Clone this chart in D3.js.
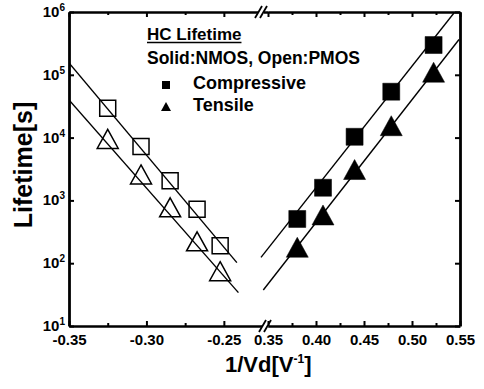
<!DOCTYPE html>
<html>
<head>
<meta charset="utf-8">
<script src="https://cdn.jsdelivr.net/npm/d3@7"></script>
<style>
  body { margin: 0; background: #fff; }
  svg { display: block; }
  text { font-family: "Liberation Sans", Arial, sans-serif; font-weight: bold; fill: #000; }
</style>
</head>
<body>
<svg id="chart" width="484" height="389"></svg>
<script>
// PMOS (open symbols), plotted against negative 1/Vd
const pmosX = [-0.325, -0.3035, -0.2847, -0.2673, -0.2524];
const pmosCompressive = [2.93e4, 7.2e3, 2.06e3, 721, 190];
const pmosTensile = [9.2e3, 2.5e3, 748, 215, 72];

// NMOS (solid symbols), plotted against positive 1/Vd
const nmosX = [0.3805, 0.4073, 0.4402, 0.4784, 0.5225];
const nmosCompressive = [506, 1590, 1.03e4, 5.38e4, 2.98e5];
const nmosTensile = [173, 565, 2.99e3, 1.49e4, 1.06e5];

// Fitted lifetime lines, [1/Vd, lifetime] end points
const pmosCompressiveFit = [[-0.35, 1.54e5], [-0.2416, 102]];
const pmosTensileFit = [[-0.35, 3.97e4], [-0.2406, 34]];
const nmosCompressiveFit = [[0.3427, 124], [0.5445, 1e6]];
const nmosTensileFit = [[0.3451, 37.4], [0.549, 3.65e5]];

// Axis ticks
const leftMajor = [-0.35, -0.30, -0.25];
const leftMinor = [-0.325, -0.275];
const rightMajor = [0.35, 0.40, 0.45, 0.50, 0.55];
const rightMinor = [0.375, 0.425, 0.475, 0.525];
const yTicks = [1e1, 1e2, 1e3, 1e4, 1e5, 1e6];

const legendTitle = "HC Lifetime";
const legendNote = "Solid:NMOS, Open:PMOS";
const legendItems = ["Compressive", "Tensile"];

const svg = d3.select("#chart");
const plotTop = 12, plotBottom = 326, plotLeft = 69, plotRight = 460, brk = 268;

const y = d3.scaleLog().domain([1e1, 1e6]).range([plotBottom, plotTop]);
const xL = d3.scaleLinear().domain([-0.35, -0.2215]).range([plotLeft, brk]);
const xR = d3.scaleLinear().domain([0.35, 0.55]).range([brk, plotRight]);

const fmt = d => d.toFixed(2);

function styleAxis(g, domainWidth) {
  g.select(".domain").attr("stroke", "#000").attr("stroke-width", domainWidth);
  g.selectAll(".tick line").attr("stroke", "#000").attr("stroke-width", 2);
  g.selectAll(".tick text").style("font-size", "15px");
}

// bottom and top axes, two segments each
[[xL, leftMajor, leftMinor], [xR, rightMajor, rightMinor]].forEach(([sc, maj, min]) => {
  svg.append("g").attr("transform", `translate(0,${plotBottom})`)
    .call(d3.axisBottom(sc).tickValues(maj).tickSizeInner(-5).tickSizeOuter(0).tickPadding(8).tickFormat(fmt))
    .call(g => styleAxis(g, 2.6));
  svg.append("g").attr("transform", `translate(0,${plotBottom})`)
    .call(d3.axisBottom(sc).tickValues(min).tickSizeInner(-3).tickSizeOuter(0).tickFormat(""))
    .call(g => { styleAxis(g, 0); g.select(".domain").remove(); });
  svg.append("g").attr("transform", `translate(0,${plotTop})`)
    .call(d3.axisTop(sc).tickValues(maj).tickSizeInner(-5).tickSizeOuter(0).tickFormat(""))
    .call(g => styleAxis(g, 2.6));
  svg.append("g").attr("transform", `translate(0,${plotTop})`)
    .call(d3.axisTop(sc).tickValues(min).tickSizeInner(-3).tickSizeOuter(0).tickFormat(""))
    .call(g => { styleAxis(g, 0); g.select(".domain").remove(); });
});

// left and right axes
svg.append("g").attr("transform", `translate(${plotLeft},0)`)
  .call(d3.axisLeft(y).tickValues(yTicks).tickSizeInner(-5).tickSizeOuter(0).tickFormat(""))
  .call(g => styleAxis(g, 2.8));
svg.append("g").attr("transform", `translate(${plotRight},0)`)
  .call(d3.axisRight(y).tickValues(yTicks).tickSizeInner(-5).tickSizeOuter(0).tickFormat(""))
  .call(g => styleAxis(g, 2.8));

// y tick labels as 10 with superscript exponent
yTicks.forEach(v => {
  const t = svg.append("text")
    .attr("x", plotLeft - 4).attr("y", y(v) + 5)
    .attr("text-anchor", "end")
    .style("font-size", "15px");
  t.append("tspan").text("10");
  t.append("tspan").attr("dy", -6).style("font-size", "10px").text(Math.round(Math.log10(v)));
});

// axis break marks
function breakMark(cx, cy) {
  svg.append("rect").attr("x", cx - 3).attr("y", cy - 2).attr("width", 6).attr("height", 4).attr("fill", "#fff");
  [-2.5, 2.5].forEach(off => {
    svg.append("line")
      .attr("x1", cx + off - 3.5).attr("y1", cy + 6)
      .attr("x2", cx + off + 3.5).attr("y2", cy - 6)
      .attr("stroke", "#000").attr("stroke-width", 1.8);
  });
}
breakMark(brk - 3, plotBottom);
breakMark(brk - 7, plotTop);

// clip for plotted data
svg.append("clipPath").attr("id", "plot-clip")
  .append("rect").attr("x", plotLeft).attr("y", plotTop)
  .attr("width", plotRight - plotLeft).attr("height", plotBottom - plotTop);
const plot = svg.append("g").attr("clip-path", "url(#plot-clip)");

// fit lines
const lineL = d3.line().x(d => xL(d[0])).y(d => y(d[1]));
const lineR = d3.line().x(d => xR(d[0])).y(d => y(d[1]));
[[pmosCompressiveFit, lineL], [pmosTensileFit, lineL], [nmosCompressiveFit, lineR], [nmosTensileFit, lineR]]
  .forEach(([pts, gen]) => {
    plot.append("path").attr("d", gen(pts)).attr("fill", "none")
      .attr("stroke", "#000").attr("stroke-width", 1.4);
  });

// markers
const squarePath = s => `M${-s/2},${-s/2}H${s/2}V${s/2}H${-s/2}Z`;
const trianglePath = (w, h) => `M0,${-h*0.55}L${w/2},${h*0.45}L${-w/2},${h*0.45}Z`;

function drawMarkers(xs, ys, sc, path, filled) {
  plot.append("g").selectAll("path").data(xs.map((d, i) => [d, ys[i]])).join("path")
    .attr("transform", d => `translate(${sc(d[0])},${y(d[1])})`)
    .attr("d", path)
    .attr("fill", filled ? "#000" : "none")
    .attr("stroke", "#000").attr("stroke-width", filled ? 0.5 : 1.5);
}
drawMarkers(pmosX, pmosCompressive, xL, squarePath(16), false);
drawMarkers(pmosX, pmosTensile, xL, trianglePath(21, 19), false);
drawMarkers(nmosX, nmosCompressive, xR, squarePath(17), true);
drawMarkers(nmosX, nmosTensile, xR, trianglePath(22, 20), true);

// legend
const lt = svg.append("text").attr("x", 147).attr("y", 40).style("font-size", "17px").text(legendTitle);
const ltw = lt.node().getComputedTextLength();
svg.append("line").attr("x1", 147).attr("x2", 147 + ltw).attr("y1", 42.5).attr("y2", 42.5)
  .attr("stroke", "#000").attr("stroke-width", 1.5);
svg.append("text").attr("x", 147).attr("y", 64).attr("textLength", 213).attr("lengthAdjust", "spacingAndGlyphs")
  .style("font-size", "18px").text(legendNote);
svg.append("path").attr("transform", "translate(166,85)").attr("d", squarePath(8)).attr("fill", "#000");
svg.append("text").attr("x", 193).attr("y", 89).style("font-size", "18px").text(legendItems[0]);
svg.append("path").attr("transform", "translate(166,107)").attr("d", trianglePath(10, 9)).attr("fill", "#000");
svg.append("text").attr("x", 193).attr("y", 111).style("font-size", "18px").text(legendItems[1]);

// axis titles
svg.append("text").attr("transform", "translate(32,165) rotate(-90)")
  .attr("text-anchor", "middle").style("font-size", "25px").text("Lifetime[s]");
const xt = svg.append("text").attr("x", 225).attr("y", 372).style("font-size", "22px");
xt.append("tspan").text("1/Vd[V");
xt.append("tspan").attr("dy", -9).style("font-size", "12px").text("-1");
xt.append("tspan").attr("dy", 9).text("]");
</script>
</body>
</html>
